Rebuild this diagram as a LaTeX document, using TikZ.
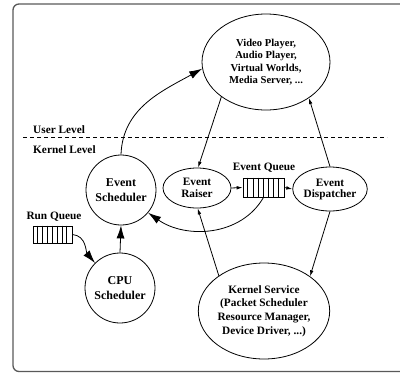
\documentclass[tikz,border=0pt]{standalone}
\usepackage{fontspec}
\setmainfont{Liberation Serif}
\usetikzlibrary{shapes.geometric,arrows.meta}
\tikzset{
  every node/.style={font=\bfseries},
  conn/.style={line width=0.8pt,-{Latex[length=6pt,width=3.6pt]}},
  bigconn/.style={line width=0.8pt,-{Latex[length=13pt,width=8pt]}},
  ell/.style={draw,line width=0.8pt,ellipse,inner sep=0pt,align=center},
  circ/.style={draw,line width=0.8pt,circle,inner sep=0pt,minimum size=70pt,align=center,font=\bfseries\fontsize{12}{15.5}\selectfont},
  queue/.style={draw,line width=0.8pt,rectangle,inner sep=0pt},
  lbl/.style={inner sep=0pt,font=\bfseries\fontsize{11.3}{13}\selectfont}
}
\begin{document}
\begin{tikzpicture}[x=1pt,y=-1pt]
\useasboundingbox (0,0) rectangle (400,373);
\clip (0,0) rectangle (400,373);
\draw[line width=1.3pt,draw=black!65,rounded corners=6pt] (13,4) rectangle (420,371.5);
% level separator
\draw[line width=0.8pt,dash pattern=on 4pt off 3pt] (23,137) -- (387,137);
\node[lbl,anchor=west] (ul) at (33,130) {User Level};
\node[lbl,anchor=west] (kl) at (33,150) {Kernel Level};
% nodes
\node[ell,minimum width=128pt,minimum height=96pt,font=\bfseries\fontsize{10.6}{12.4}\selectfont] (vp) at (266,62) {Video Player,\\Audio Player,\\Virtual Worlds,\\Media Server, ...};
\node[circ] (es) at (121,190) {Event\\Scheduler};
\node[circ] (cpu) at (120,288) {CPU\\Scheduler};
\node[ell,minimum width=68pt,minimum height=40pt,font=\bfseries\fontsize{11.3}{11.5}\selectfont] (er) at (197,188) {Event\\Raiser};
\node[ell,minimum width=68pt,minimum height=44pt,font=\bfseries\fontsize{11.3}{11}\selectfont] (ed) at (330,189) {Event\\Dispatcher};
\node[ell,minimum width=124pt,minimum height=96pt,font=\bfseries\fontsize{11.3}{13.7}\selectfont] (ks) at (264,311) {Kernel Service\\(Packet Scheduler\\Resource Manager,\\Device Driver, ...)};
% queues
\node[queue,minimum width=41pt,minimum height=19pt] (eq) at (263.5,187.5) {};
\foreach \i in {1,...,7} \draw[line width=0.6pt] ([xshift=\i*41/8 pt]eq.north west) -- ([xshift=\i*41/8 pt]eq.south west);
\node[lbl] (eql) at (264,168) {Event Queue};
\node[queue,minimum width=39pt,minimum height=17pt] (rq) at (52.5,234.5) {};
\foreach \i in {1,...,7} \draw[line width=0.6pt] ([xshift=\i*39/8 pt]rq.north west) -- ([xshift=\i*39/8 pt]rq.south west);
\node[lbl] (rql) at (54,217) {Run Queue};
% connectors
\draw[bigconn] (es.north) to[out=88,in=209] (vp.186);
\draw[conn] (vp.218) -- (er.87);
\draw[conn] (ed.north) -- (vp.320);
\draw[conn] (ed.south) -- (ks.37);
\draw[conn] (ks.142) -- (er.272);
\draw[conn] (er.east) -- (eq.west);
\draw[conn] (eq.east) -- (ed.west);
\draw[bigconn] (eq.south) to[out=240,in=-35] (es.320);
\draw[bigconn] (cpu.north) -- (es.south);
\draw[bigconn] (rq.east) to[out=-5,in=130] (cpu.135);
\end{tikzpicture}
\end{document}
